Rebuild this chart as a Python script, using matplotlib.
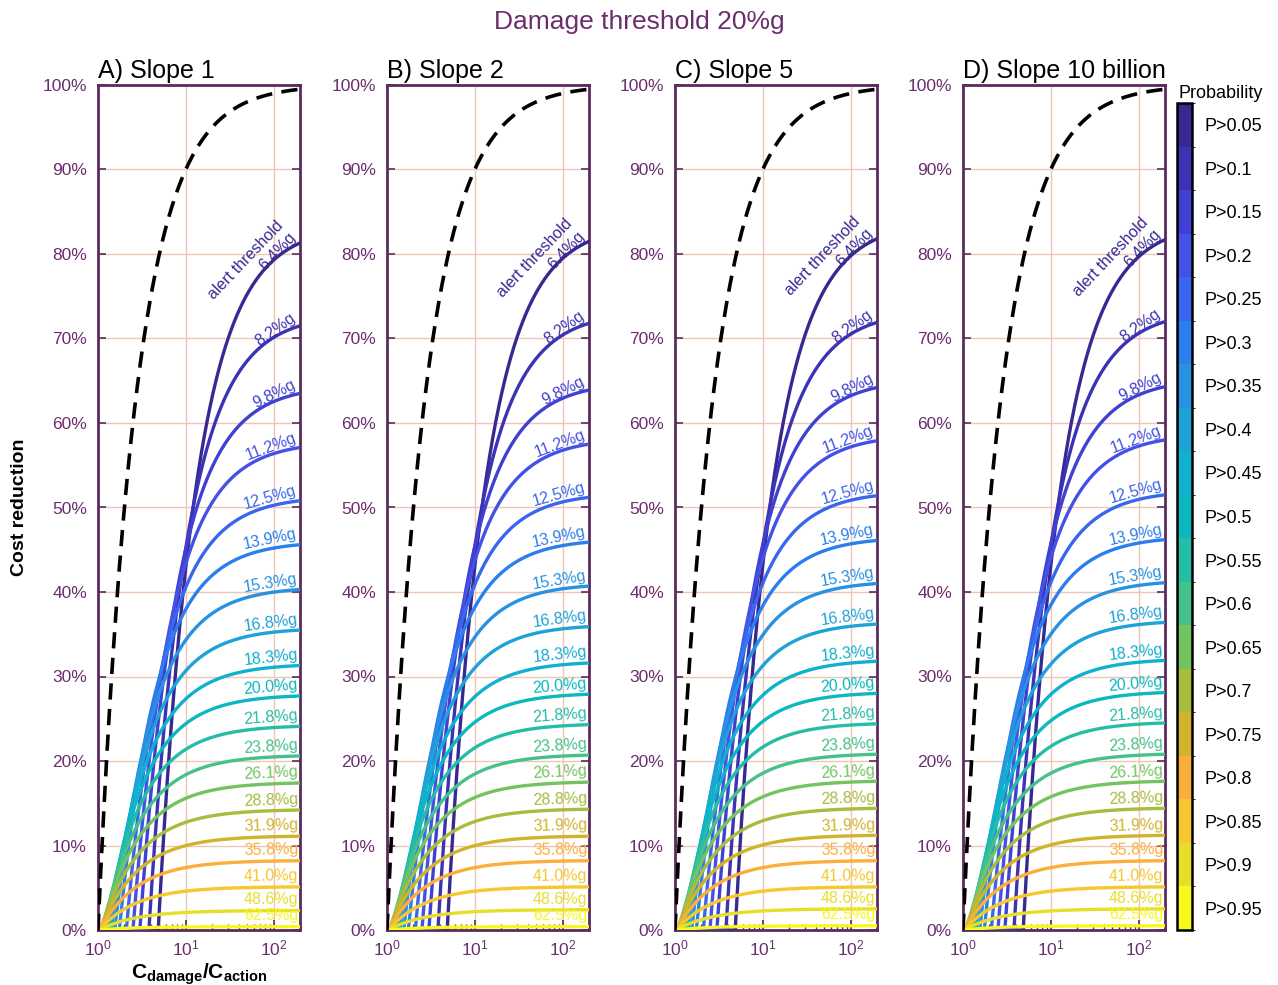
import numpy as np
import matplotlib.pyplot as plt
from matplotlib.colors import ListedColormap, BoundaryNorm
import matplotlib.cm as cm

plt.rcParams['font.family'] = ['Liberation Sans', 'DejaVu Sans']
plt.rcParams['mathtext.fontset'] = 'custom'
plt.rcParams['mathtext.rm'] = 'Liberation Sans'
plt.rcParams['mathtext.bf'] = 'Liberation Sans:bold'

# ---- data ----
suptitle = 'Damage threshold 20%g'
panel_titles = ['A) Slope 1', 'B) Slope 2', 'C) Slope 5', 'D) Slope 10 billion']
alert_levels = ['6.4', '8.2', '9.8', '11.2', '12.5', '13.9', '15.3', '16.8', '18.3',
                '20.0', '21.8', '23.8', '26.1', '28.8', '31.9', '35.8', '41.0', '48.6', '62.5']
prob_labels = ['P>0.05', 'P>0.1', 'P>0.15', 'P>0.2', 'P>0.25', 'P>0.3', 'P>0.35', 'P>0.4',
               'P>0.45', 'P>0.5', 'P>0.55', 'P>0.6', 'P>0.65', 'P>0.7', 'P>0.75', 'P>0.8',
               'P>0.85', 'P>0.9', 'P>0.95']
# Cdamage/Caction ratio at which each alert curve leaves 0 (1/precision)
start_ratio = [4.85, 3.8, 3.0, 2.5, 2.1, 1.75, 1.55, 1.42, 1.32, 1.24, 1.18, 1.13,
               1.09, 1.07, 1.05, 1.04, 1.03, 1.02, 1.01]
# cost reduction (%) at the right edge (ratio 200), per panel
end_a = [81.3, 71.5, 63.5, 57.1, 50.8, 45.6, 40.3, 35.5, 31.3, 27.7, 24.1, 20.6, 17.4, 14.2, 11.1, 8.2, 5.1, 2.3, 0.4]
end_b = [81.5, 71.8, 63.9, 57.5, 51.2, 45.9, 40.7, 35.9, 31.6, 27.9, 24.3, 20.7, 17.5, 14.3, 11.1, 8.2, 5.1, 2.4, 0.4]
end_c = [81.8, 71.9, 64.2, 57.9, 51.4, 46.1, 41.0, 36.2, 31.8, 28.0, 24.4, 20.8, 17.6, 14.4, 11.2, 8.2, 5.1, 2.5, 0.5]
end_d = [81.7, 72.0, 64.3, 58.0, 51.5, 46.2, 41.1, 36.4, 31.9, 28.1, 24.5, 20.8, 17.6, 14.4, 11.2, 8.2, 5.1, 2.5, 0.5]
panel_ends = [end_a, end_b, end_c, end_d]
ratio_max = 200

colors = ['#362a92', '#3c33b4', '#4040d2', '#4451e6', '#3a66ee', '#2b7eee', '#2891e2',
          '#1ea2d8', '#10b0cf', '#0bb8bf', '#26bda6', '#45c18a', '#73c460', '#a6bd3e',
          '#d2b32c', '#fbae3c', '#f6c72e', '#e7de2a', '#f7f91a']

purple = '#6b2d6e'
spine_c = '#5b2a5e'
grid_c = '#eec6b6'

W, H = 1278, 985
fig = plt.figure(figsize=(W / 100, H / 100), dpi=100)
fig.text(0.5, 1 - 22 / H, suptitle, ha='center', va='center', fontsize=19, color=purple)

lefts = [98, 387, 675, 963]
x = np.logspace(0, np.log10(ratio_max), 600)

for k, (left, title, ends) in enumerate(zip(lefts, panel_titles, panel_ends)):
    ax = fig.add_axes([left / W, (H - 930) / H, 202 / W, 845 / H])
    ax.set_xscale('log')
    ax.set_xlim(1, ratio_max)
    ax.set_ylim(0, 100)
    ax.set_yticks(np.arange(0, 101, 10))
    ax.set_yticklabels([f'{v}%' for v in range(0, 101, 10)])
    ax.set_axisbelow(True)
    ax.grid(True, which='major', color=grid_c, lw=1.0)
    for s in ax.spines.values():
        s.set_color(spine_c)
        s.set_linewidth(2)
    ax.tick_params(axis='y', direction='in', length=6, width=1.2, color=spine_c, right=True,
                   labelcolor=purple, labelsize=12.5, pad=8)
    ax.tick_params(axis='x', which='major', direction='in', length=7, width=1.2, color=spine_c,
                   labelcolor=purple, labelsize=12.5, pad=6)
    ax.tick_params(axis='x', which='minor', direction='in', length=4, width=1, color=spine_c)
    ax.set_title(title, loc='left', fontsize=18, pad=5)

    # perfect information
    ax.plot(x, 100 * (1 - 1 / x), color='black', lw=2.6, dashes=(4.5, 2.6), zorder=5)

    fig.canvas.draw()
    for i in range(len(alert_levels)):
        r0 = start_ratio[i]
        hit = ends[i] / (1 - r0 / ratio_max)
        y = np.clip(hit * (1 - r0 / x), 0, None)
        ax.plot(x, y, color=colors[i], lw=2.4, zorder=3)
        # label near the right end, following the local slope
        xl = 192
        yl = hit * (1 - r0 / xl)
        ya = hit * (1 - r0 / 45)
        p1 = ax.transData.transform((45, ya))
        p2 = ax.transData.transform((xl, yl))
        ang = np.degrees(np.arctan2(p2[1] - p1[1], p2[0] - p1[0]))
        txt = alert_levels[i] + '%g'
        if i == 0:
            txt = 'alert threshold\n' + txt
        ax.annotate(txt, xy=(xl, yl), xytext=(0, 2.5), textcoords='offset points',
                    ha='right', va='bottom', multialignment='right', rotation=ang,
                    rotation_mode='anchor', color=colors[i], fontsize=11.5, zorder=4)

    if k == 0:
        ax.set_ylabel('Cost reduction', fontsize=14, fontweight='bold', labelpad=10)
        ax.set_xlabel(r'$\mathbf{C_{damage}/C_{action}}$', fontsize=15, labelpad=2)

# colour bar of probability levels
cax = fig.add_axes([1177 / W, (H - 930) / H, 15 / W, (930 - 103) / H])
n = len(prob_labels)
cmap = ListedColormap(colors)
norm = BoundaryNorm(np.arange(n + 1), n)
cb = fig.colorbar(cm.ScalarMappable(norm=norm, cmap=cmap), cax=cax, drawedges=True)
cax.invert_yaxis()
cb.set_ticks(np.arange(n) + 0.5)
cb.set_ticklabels(prob_labels)
cax.tick_params(length=0, labelsize=13, pad=9)
cb.outline.set_linewidth(1.8)
cb.outline.set_edgecolor('black')
cb.dividers.set_color('#b08080')
cb.dividers.set_linewidth(0.6)
fig.text(1178 / W, 1 - 93 / H, 'Probability', ha='left', va='center', fontsize=13)

fig.savefig('out.png', dpi=100)
